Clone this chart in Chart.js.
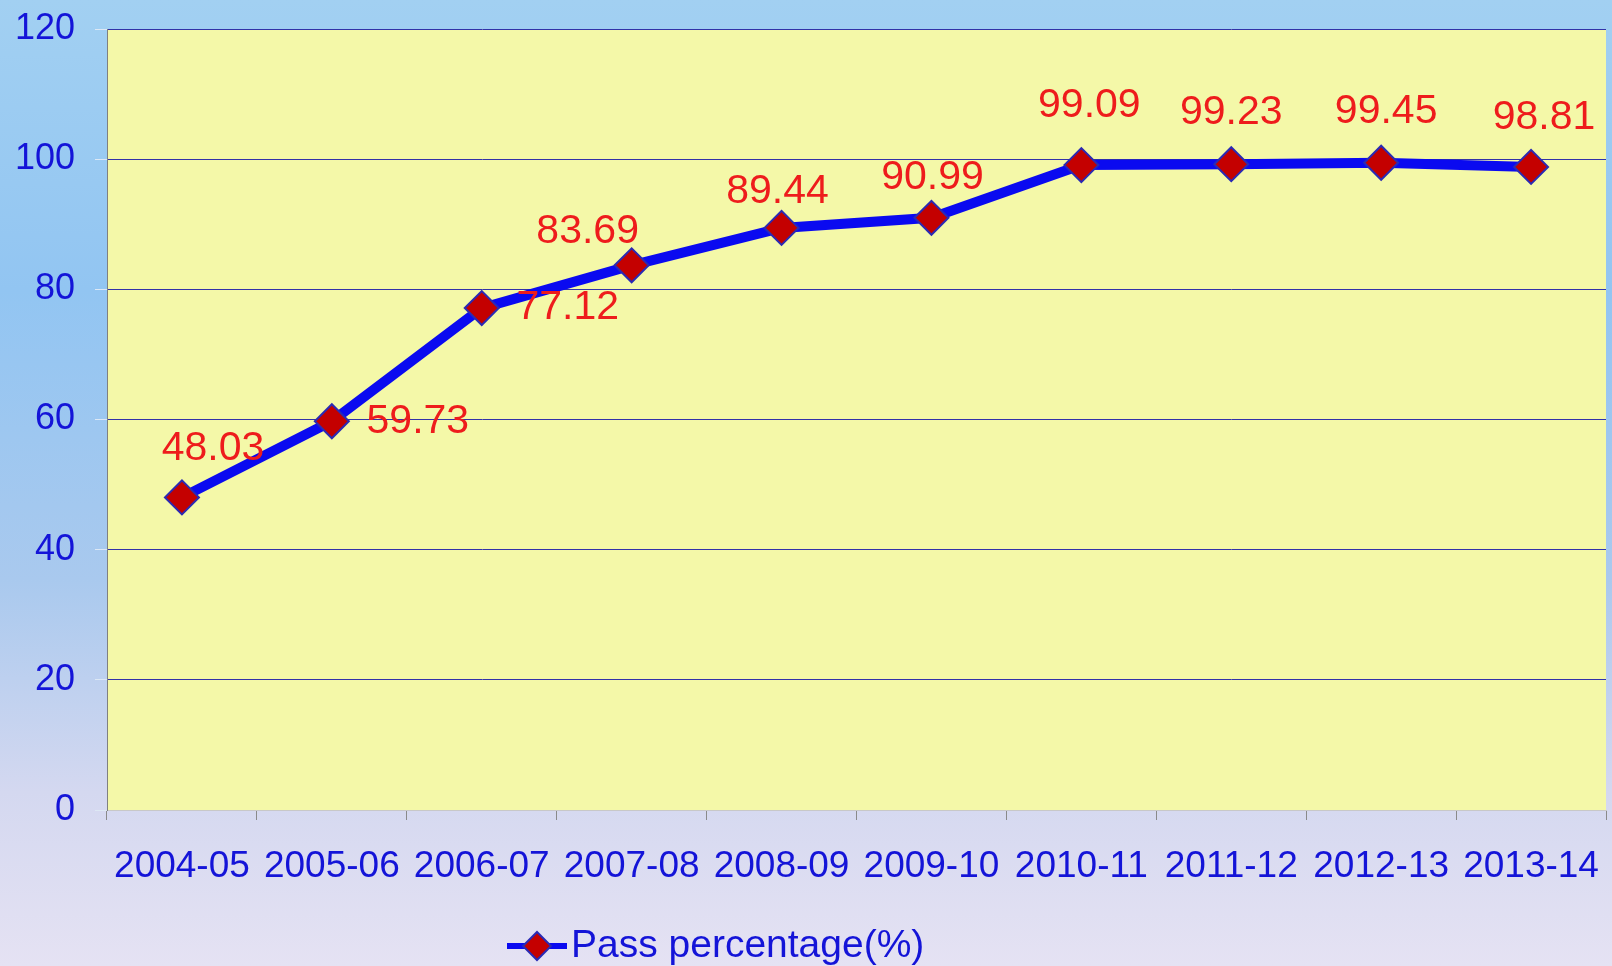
<!DOCTYPE html>
<html>
<head>
<meta charset="utf-8">
<script src="https://cdn.jsdelivr.net/npm/chart.js@4"></script>
<style>
    html, body {
        margin: 0;
        padding: 0;
        width: 1612px;
        height: 966px;
        overflow: hidden;
    }
    body {
        background: linear-gradient(to bottom, #a2d0f2 0%, #92c5f2 30%, #a9c9ee 60%, #d4d8f0 82%, #e5e2f3 100%);
    }
    #wrap {
        position: relative;
        width: 1612px;
        height: 966px;
    }
</style>
</head>
<body>
<div id="wrap"><canvas id="pass-chart" width="1612" height="966"></canvas></div>
<script>
const years = ['2004-05', '2005-06', '2006-07', '2007-08', '2008-09', '2009-10', '2010-11', '2011-12', '2012-13', '2013-14'];
const passPercentage = [48.03, 59.73, 77.12, 83.69, 89.44, 90.99, 99.09, 99.23, 99.45, 98.81];
const seriesLabel = 'Pass percentage(%)';
const yTicks = [0, 20, 40, 60, 80, 100, 120];

// where each value label sits relative to its point (px)
const labelOffsets = [
    [31, -49], [86, 0], [86, 0], [-44, -34], [-4, -36],
    [1, -40], [8, -59], [0, -51], [5, -51], [13, -49]
];

const fontFamily = '"Liberation Sans", Arial, sans-serif';

const plotBackground = {
    id: 'plotBackground',
    beforeDraw(chart) {
        const { ctx, chartArea } = chart;
        ctx.save();
        ctx.fillStyle = '#f4f8a8';
        ctx.fillRect(chartArea.left, chartArea.top, chartArea.right - chartArea.left, chartArea.bottom - chartArea.top);
        ctx.restore();
    }
};

const valueLabels = {
    id: 'valueLabels',
    afterDatasetsDraw(chart) {
        const ctx = chart.ctx;
        const meta = chart.getDatasetMeta(0);
        const values = chart.data.datasets[0].data;
        ctx.save();
        ctx.font = '41px ' + fontFamily;
        ctx.fillStyle = '#ee1c1c';
        ctx.textAlign = 'center';
        ctx.textBaseline = 'middle';
        meta.data.forEach((pt, i) => {
            const off = labelOffsets[i];
            ctx.fillText(values[i].toFixed(2), pt.x + off[0], pt.y + off[1]);
        });
        ctx.restore();
    }
};

const bottomLegend = {
    id: 'bottomLegend',
    afterDraw(chart) {
        const ctx = chart.ctx;
        const ds = chart.data.datasets[0];
        const cy = 946;
        ctx.save();
        ctx.strokeStyle = ds.borderColor;
        ctx.lineWidth = 6;
        ctx.beginPath();
        ctx.moveTo(507, cy);
        ctx.lineTo(567, cy);
        ctx.stroke();
        ctx.fillStyle = ds.pointBackgroundColor;
        ctx.strokeStyle = ds.pointBorderColor;
        ctx.lineWidth = 2;
        Chart.helpers.drawPoint(ctx, { pointStyle: 'rectRot', radius: 14, borderWidth: 2 }, 537, cy);
        ctx.font = '39px ' + fontFamily;
        ctx.fillStyle = '#1414d8';
        ctx.textAlign = 'left';
        ctx.textBaseline = 'alphabetic';
        ctx.fillText(ds.label, 571, 957);
        ctx.restore();
    }
};

const ctx = document.getElementById('pass-chart').getContext('2d');
const passChart = new Chart(ctx, {
    type: 'line',
    data: {
        labels: years,
        datasets: [{
            label: seriesLabel,
            data: passPercentage,
            borderColor: '#0a0af0',
            borderWidth: 10,
            tension: 0,
            pointStyle: 'rectRot',
            pointRadius: 17,
            pointHoverRadius: 17,
            pointBackgroundColor: '#c40000',
            pointBorderColor: '#2a2ab4',
            pointBorderWidth: 2,
        }]
    },
    options: {
        responsive: false,
        animation: false,
        devicePixelRatio: 1,
        layout: {
            autoPadding: false,
            padding: { left: 0, right: 6, top: 29, bottom: 76 }
        },
        scales: {
            x: {
                offset: true,
                afterFit: (scale) => {
                    scale.height = 80;
                    scale.paddingLeft = 0;
                    scale.paddingRight = 0;
                },
                grid: {
                    display: true,
                    offset: true,
                    drawOnChartArea: false,
                    drawTicks: true,
                    tickLength: 10,
                    color: '#8a8a8a',
                },
                border: { display: true, color: '#c8c8c8', width: 1 },
                ticks: {
                    color: '#1414d8',
                    padding: 25,
                    maxRotation: 0,
                    autoSkip: false,
                    font: { family: fontFamily, size: 37 }
                }
            },
            y: {
                min: 0,
                max: 120,
                afterFit: (scale) => {
                    scale.width = 107;
                    scale.paddingTop = 0;
                    scale.paddingBottom = 0;
                },
                afterBuildTicks: (scale) => { scale.ticks = yTicks.map(v => ({ value: v })); },
                grid: {
                    color: '#3232a8',
                    lineWidth: 1,
                    drawTicks: true,
                    tickLength: 12,
                    tickColor: '#dde8f4',
                },
                border: { display: true, color: '#808080', width: 1 },
                ticks: {
                    color: '#1414d8',
                    padding: 20,
                    font: { family: fontFamily, size: 36 }
                }
            }
        },
        plugins: {
            legend: { display: false },
            title: { display: false },
            tooltip: { enabled: false }
        }
    },
    plugins: [plotBackground, valueLabels, bottomLegend]
});
</script>
</body>
</html>
